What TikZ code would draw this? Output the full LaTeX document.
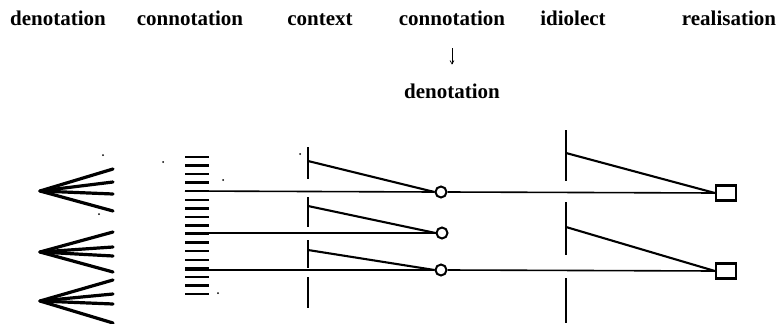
\documentclass[tikz,border=0pt]{standalone}
\usepackage{fontspec}
\setmainfont{Liberation Serif}
\usepackage{tikz}
\usetikzlibrary{arrows.meta, positioning}

\begin{document}
\begin{tikzpicture}[x=1pt,y=-1pt,line width=1.6pt,>={Straight Barb[length=3.5pt,width=4pt]},
        heading/.style={font=\bfseries\fontsize{21}{25}\selectfont,anchor=base,inner sep=2pt},
        junction/.style={circle,draw,fill=white,line width=2pt,minimum size=11pt,inner sep=0pt},
        terminal/.style={rectangle,draw,line width=2.2pt,minimum width=20pt,minimum height=15pt,inner sep=0pt},
        fan/.style={line width=3.2pt,line cap=round},
        bar/.style={line width=2.5pt},
        slant/.style={line width=2.1pt},
        speck/.style={fill,inner sep=0pt,minimum size=2pt,circle}]
    \useasboundingbox (0,0) rectangle (777,324);

      % headings
      \node[heading] (den)   at (58,25)  {denotation};
      \node[heading] (con)   at (190,25) {connotation};
      \node[heading] (ctx)   at (320,25) {context};
      \node[heading] (con_2) at (452,25) {connotation};
      \node[heading] (idl)   at (573,25) {idiolect};
      \node[heading] (real)  at (729,25) {realisation};
      \node[heading] (den_2) at (452,98) {denotation};
      \draw[->,line width=0.7pt,shorten <=20pt,shorten >=16pt] (con_2) -- (den_2);

      % denotation fans
      \foreach \ay/\ends [count=\k] in {191/{169,182,194,211},252/{232,247,256,272},301/{280,294,304,323}}{
        \coordinate (apex_\k) at (40,\ay);
        \foreach \ey in \ends
          \draw[fan] (apex_\k) -- (113,\ey);
      }

      % connotation comb
      \foreach \i in {0,...,16}
        \draw[line width=2.4pt] (185,157+\i*8.56) -- (209,157+\i*8.56);
      \coordinate (a_1) at (185,191);
      \coordinate (a_2) at (185,233);
      \coordinate (a_3) at (185,270);

      % context and idiolect bars
      \foreach \ya/\yb in {147/179,197/227,240/268,277/308}
        \draw[bar] (308,\ya) -- (308,\yb);
      \foreach \ya/\yb in {130/181,202/255,278/323}
        \draw[bar] (566,\ya) -- (566,\yb);
      \coordinate (c_1) at (308,161);
      \coordinate (c_2) at (308,206);
      \coordinate (c_3) at (308,250);
      \coordinate (i_1) at (566,153);
      \coordinate (i_2) at (566,227);

      % junctions and realisations
      \node[junction] (j_1) at (441,192) {};
      \node[junction] (j_2) at (442,233) {};
      \node[junction] (j_3) at (441,270) {};
      \node[terminal] (t_1) at (726,193) {};
      \node[terminal] (t_2) at (726,271) {};

      \draw (a_1) -- (j_1.west)  (j_1.east) -- (t_1.west);
      \draw (a_2) -- (j_2.west);
      \draw (a_3) -- (j_3.west)  (j_3.east) -- (t_2.west);
      \draw[slant] (c_1) -- (j_1.west)  (c_2) -- (j_2.west)  (c_3) -- (j_3.west);
      \draw[slant] (i_1) -- (t_1.west)  (i_2) -- (t_2.west);

      % specks of the scan
      \foreach \p in {(103,155),(99,214),(163,162),(223,180),(218,293),(300,154)}
        \node[speck] at \p {};
    \end{tikzpicture}
\end{document}
